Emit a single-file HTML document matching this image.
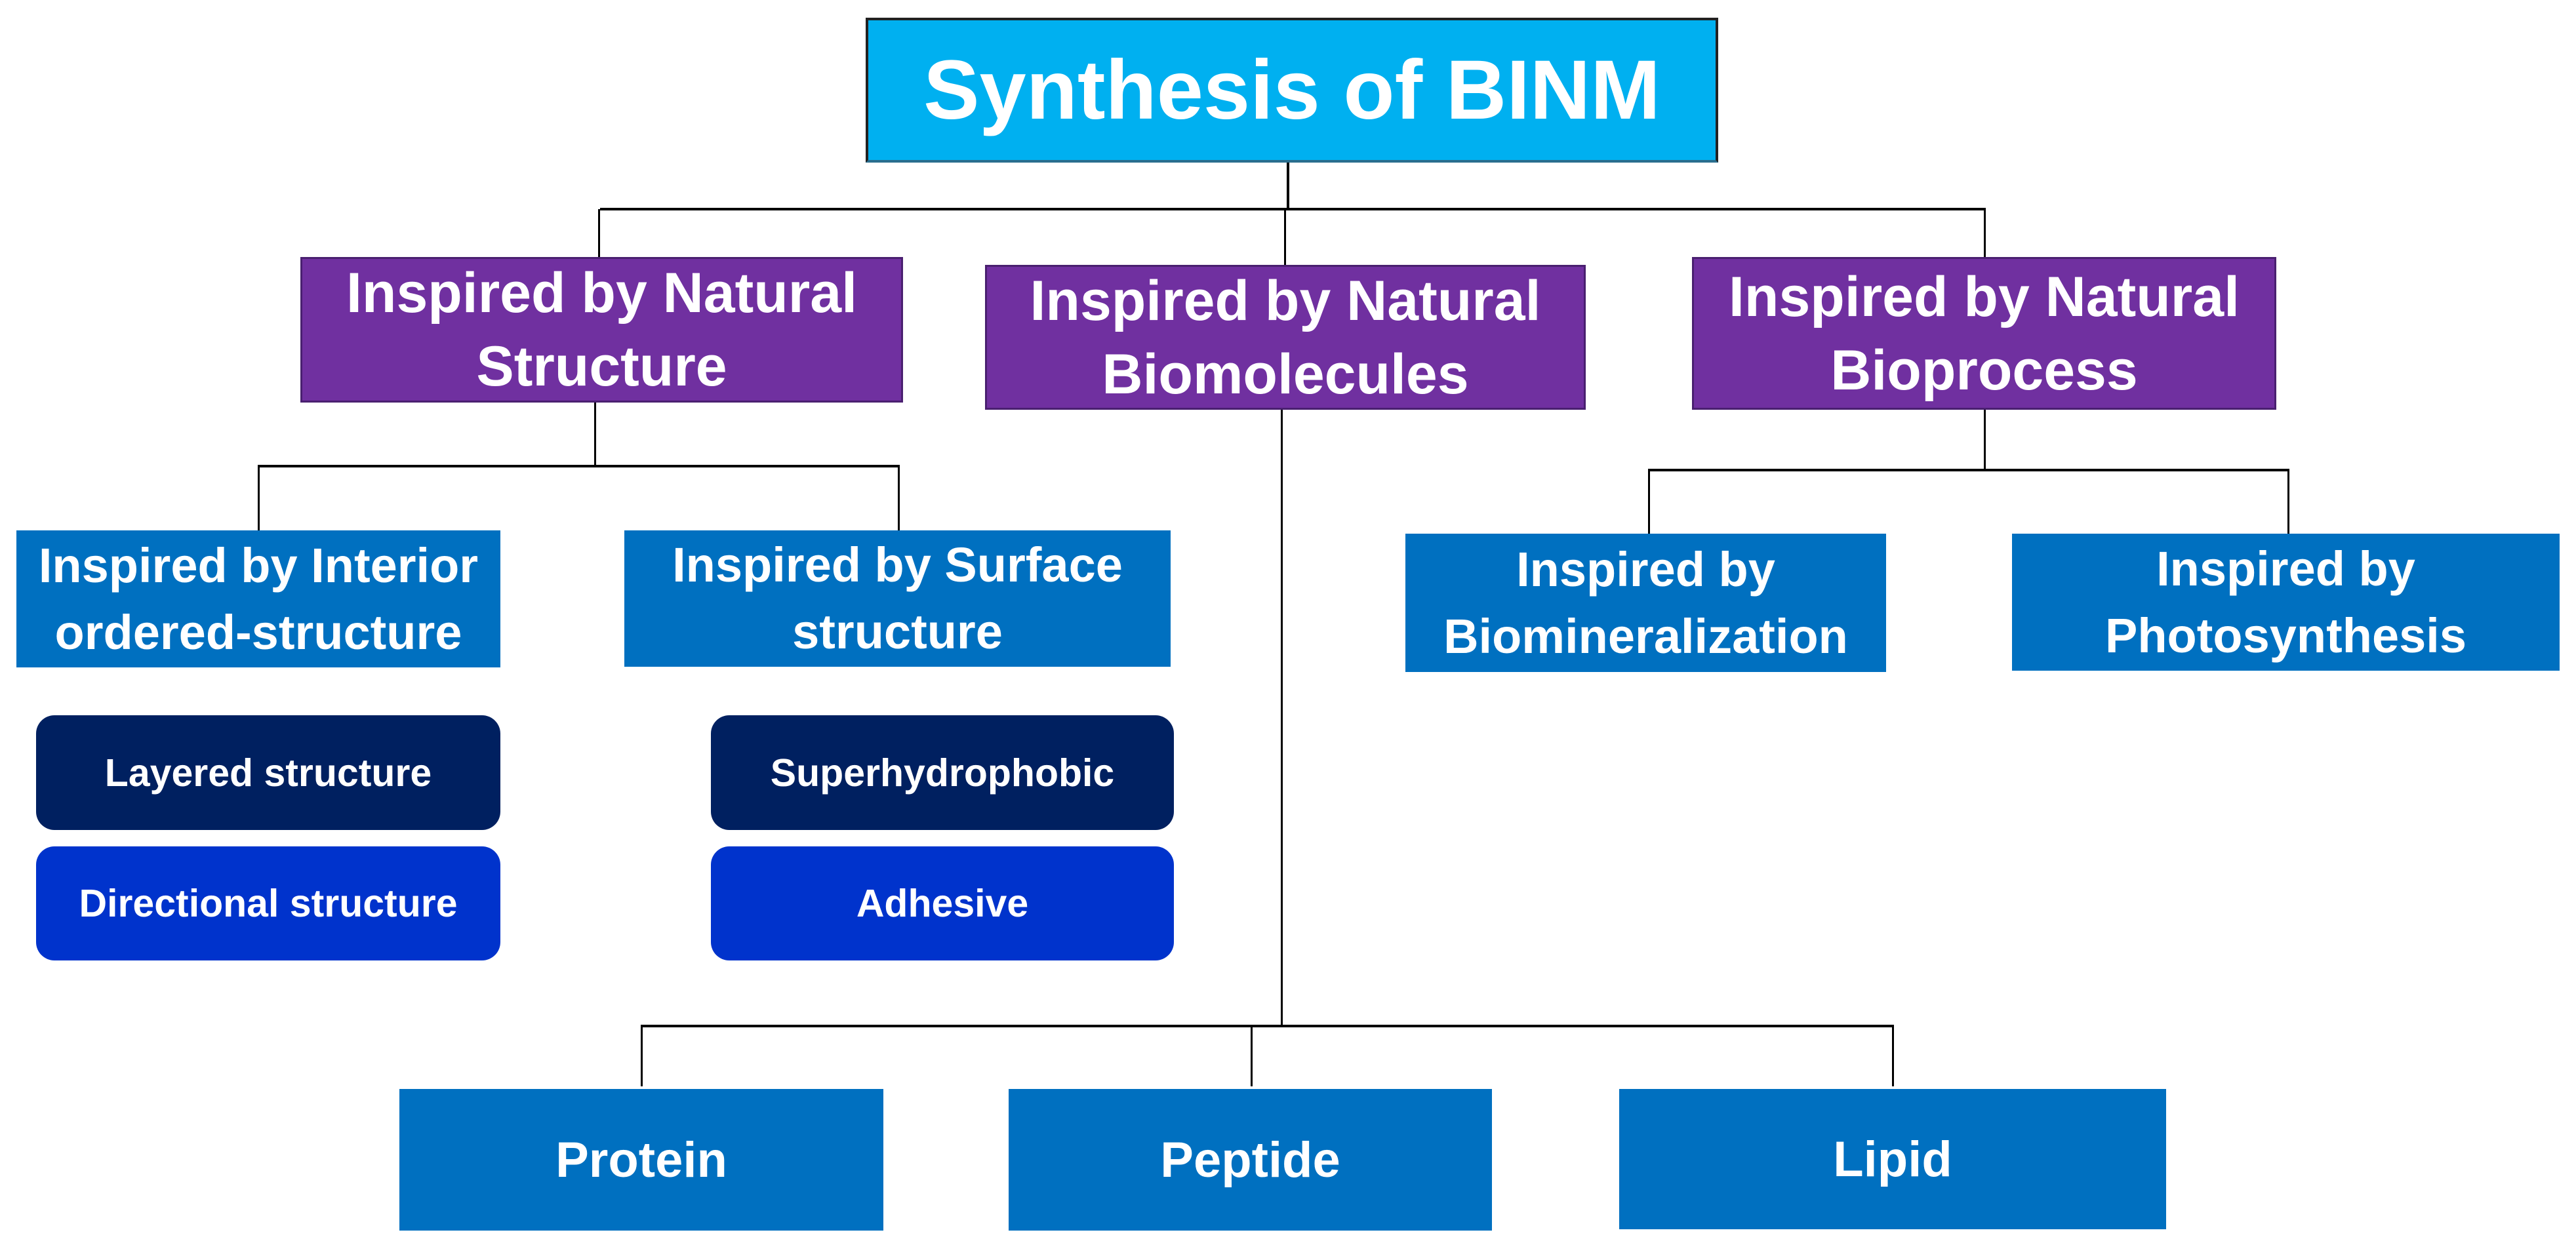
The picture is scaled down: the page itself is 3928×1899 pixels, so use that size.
<!DOCTYPE html>
<html><head><meta charset="utf-8"><style>
html,body{margin:0;padding:0;background:#fff;}
body{width:3928px;height:1899px;position:relative;overflow:hidden;font-family:"Liberation Sans",sans-serif;font-weight:bold;color:#fff;}
.b{position:absolute;display:flex;align-items:center;justify-content:center;text-align:center;box-sizing:border-box;white-space:nowrap;}
.l{position:absolute;background:#000;}
.p{background:#7030A0;border:3px solid #4a2070;font-size:86px;line-height:112px;}
.u{background:#0070C0;font-size:74px;line-height:102px;}
.d{background:#002060;border-radius:28px;font-size:59px;}
.r{background:#0033CC;border-radius:28px;font-size:59px;}
.q{background:#0070C0;font-size:76px;}
</style></head><body>
<div class="b" style="left:1320px;top:27px;width:1300px;height:221px;background:#00B0F0;border:4px solid #222;border-bottom-color:#2a6e8e;font-size:128px;">Synthesis of BINM</div>

<div class="l" style="left:1962px;top:248px;width:4px;height:72px"></div>
<div class="l" style="left:915px;top:317px;width:2113px;height:4px"></div>
<div class="l" style="left:912px;top:319px;width:3px;height:74px"></div>
<div class="l" style="left:1958px;top:319px;width:3px;height:86px"></div>
<div class="l" style="left:3025px;top:319px;width:3px;height:74px"></div>

<div class="b p" style="left:458px;top:392px;width:919px;height:222px;">Inspired by Natural<br>Structure</div>
<div class="b p" style="left:1502px;top:404px;width:916px;height:221px;">Inspired by Natural<br>Biomolecules</div>
<div class="b p" style="left:2580px;top:392px;width:891px;height:233px;">Inspired by Natural<br>Bioprocess</div>

<div class="l" style="left:906px;top:614px;width:3px;height:98px"></div>
<div class="l" style="left:393px;top:709px;width:979px;height:4px"></div>
<div class="l" style="left:393px;top:711px;width:3px;height:98px"></div>
<div class="l" style="left:1369px;top:711px;width:3px;height:98px"></div>

<div class="l" style="left:3025px;top:625px;width:3px;height:92px"></div>
<div class="l" style="left:2513px;top:715px;width:978px;height:4px"></div>
<div class="l" style="left:2513px;top:717px;width:3px;height:97px"></div>
<div class="l" style="left:3488px;top:717px;width:3px;height:97px"></div>

<div class="l" style="left:1953px;top:625px;width:3px;height:940px"></div>
<div class="l" style="left:977px;top:1563px;width:1911px;height:4px"></div>
<div class="l" style="left:977px;top:1565px;width:3px;height:92px"></div>
<div class="l" style="left:1907px;top:1565px;width:3px;height:92px"></div>
<div class="l" style="left:2885px;top:1565px;width:3px;height:92px"></div>

<div class="b u" style="left:25px;top:809px;width:738px;height:209px;">Inspired by Interior<br>ordered-structure</div>
<div class="b u" style="left:952px;top:809px;width:833px;height:208px;">Inspired by Surface<br>structure</div>
<div class="b u" style="left:2143px;top:814px;width:733px;height:211px;">Inspired by<br>Biomineralization</div>
<div class="b u" style="left:3068px;top:814px;width:835px;height:209px;">Inspired by<br>Photosynthesis</div>

<div class="b d" style="left:55px;top:1091px;width:708px;height:175px;">Layered structure</div>
<div class="b d" style="left:1084px;top:1091px;width:706px;height:175px;">Superhydrophobic</div>
<div class="b r" style="left:55px;top:1291px;width:708px;height:174px;">Directional structure</div>
<div class="b r" style="left:1084px;top:1291px;width:706px;height:174px;">Adhesive</div>

<div class="b q" style="left:609px;top:1661px;width:738px;height:216px;">Protein</div>
<div class="b q" style="left:1538px;top:1661px;width:737px;height:216px;">Peptide</div>
<div class="b q" style="left:2469px;top:1661px;width:834px;height:214px;">Lipid</div>
</body></html>
